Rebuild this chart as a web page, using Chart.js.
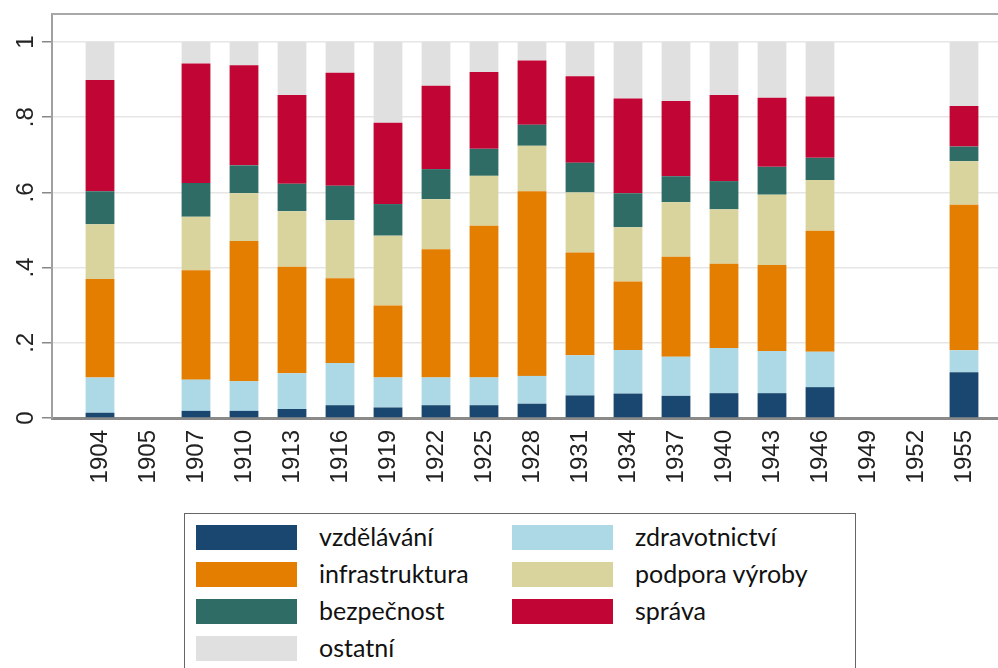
<!DOCTYPE html>
<html>
<head>
<meta charset="utf-8">
<script src="https://cdn.jsdelivr.net/npm/chart.js@4/dist/chart.umd.min.js"></script>
<style>
  html, body { margin: 0; padding: 0; background: #fff; width: 998px; height: 668px; overflow: hidden; }
  #wrap { position: absolute; left: 0; top: 0; width: 1012px; height: 668px; }
  #legend { position: absolute; left: 184px; top: 513px; width: 672px; height: 200px;
            border: 1.5px solid #666; box-sizing: border-box; background: #fff;
            font-family: Lato, "Open Sans", sans-serif; font-size: 25px; color: #111; }
  .item { position: absolute; height: 25px; }
  .sw { position: absolute; left: 0; top: 0; width: 101px; height: 25px; }
  .lab { position: absolute; left: 123px; top: -6px; white-space: nowrap; line-height: 34px; }
</style>
</head>
<body>
<div id="wrap"><canvas id="c"></canvas></div>
<div id="legend"></div>
<script>
// ---- data ----
const years = ['1904','1905','1907','1910','1913','1916','1919','1922','1925','1928','1931','1934','1937','1940','1943','1946','1949','1952','1955'];
const vzdelavani     = [0.014, null, 0.019, 0.019, 0.024, 0.034, 0.028, 0.034, 0.034, 0.038, 0.060, 0.065, 0.059, 0.066, 0.066, 0.082, null, null, 0.122];
const zdravotnictvi  = [0.094, null, 0.083, 0.079, 0.095, 0.112, 0.080, 0.074, 0.074, 0.074, 0.107, 0.116, 0.104, 0.120, 0.112, 0.094, null, null, 0.058];
const infrastruktura = [0.262, null, 0.291, 0.373, 0.283, 0.226, 0.191, 0.341, 0.403, 0.491, 0.273, 0.182, 0.266, 0.224, 0.229, 0.322, null, null, 0.387];
const podporaVyroby  = [0.145, null, 0.142, 0.127, 0.148, 0.154, 0.186, 0.133, 0.133, 0.121, 0.160, 0.144, 0.145, 0.145, 0.187, 0.135, null, null, 0.116];
const bezpecnost     = [0.088, null, 0.090, 0.074, 0.073, 0.092, 0.084, 0.080, 0.072, 0.056, 0.079, 0.091, 0.069, 0.075, 0.074, 0.059, null, null, 0.039];
const sprava         = [0.296, null, 0.318, 0.266, 0.236, 0.300, 0.216, 0.222, 0.204, 0.171, 0.230, 0.252, 0.200, 0.229, 0.184, 0.163, null, null, 0.108];
const ostatni        = [0.101, null, 0.057, 0.062, 0.141, 0.082, 0.215, 0.116, 0.080, 0.049, 0.091, 0.150, 0.157, 0.141, 0.148, 0.145, null, null, 0.170];
const yTickValues = [0, 0.2, 0.4, 0.6, 0.8, 1];
const yTickLabels = ['0', '.2', '.4', '.6', '.8', '1'];

const seriesNames  = ['vzdělávání', 'zdravotnictví', 'infrastruktura', 'podpora výroby', 'bezpečnost', 'správa', 'ostatní'];
const seriesValues = [vzdelavani, zdravotnictvi, infrastruktura, podporaVyroby, bezpecnost, sprava, ostatni];
const seriesColors = ['#1a476f', '#add8e6', '#e37e00', '#d9d49e', '#2e6c65', '#c10534', '#e0e0e0'];

Chart.defaults.font.family = '"Liberation Sans", Arial, sans-serif';
Chart.defaults.color = '#222';

const datasets = seriesNames.map((name, k) => ({
  label: name,
  data: seriesValues[k].map((v, i) => ({ x: i, y: v })),
  backgroundColor: seriesColors[k],
  borderWidth: 0,
  barPercentage: 0.6,
  categoryPercentage: 1.0
}));

// top frame line of the plot region
const topFrame = {
  id: 'topFrame',
  afterDraw(chart) {
    const { ctx, chartArea } = chart;
    ctx.save();
    ctx.strokeStyle = '#a8a8a8';
    ctx.lineWidth = 2;
    ctx.beginPath();
    ctx.moveTo(chartArea.left, chartArea.top);
    ctx.lineTo(chartArea.right, chartArea.top);
    ctx.stroke();
    ctx.restore();
  }
};

const chart = new Chart(document.getElementById('c'), {
  type: 'bar',
  data: { datasets },
  plugins: [topFrame],
  options: {
    responsive: true,
    maintainAspectRatio: false,
    animation: false,
    layout: { padding: { top: 14, left: 0, right: 0, bottom: 0 } },
    plugins: { legend: { display: false }, tooltip: { enabled: false } },
    scales: {
      x: {
        type: 'linear', position: 'bottom', stacked: true, offset: false,
        min: -1, max: 19,
        grid: { display: false, drawTicks: false },
        border: { display: true, color: '#8a8a8a', width: 3 },
        afterBuildTicks: s => { s.ticks = years.map((y, i) => ({ value: i })); },
        afterFit: s => { s.height = 250; s.paddingLeft = 0; s.paddingRight = 0; },
        ticks: {
          autoSkip: false, minRotation: 90, maxRotation: 90, padding: 12,
          font: { size: 24 }, color: '#222',
          callback: v => years[v]
        }
      },
      y: {
        type: 'linear', position: 'left', stacked: true,
        min: 0, max: 1.0745,
        grid: { color: '#e6e6e6', lineWidth: 1.5, tickLength: 10, tickColor: '#888', tickWidth: 1.5 },
        border: { display: true, color: '#a0a0a0', width: 2 },
        afterBuildTicks: s => { s.ticks = yTickValues.map(v => ({ value: v })); },
        afterFit: s => { s.width = 52; s.paddingTop = 0; s.paddingBottom = 0; },
        ticks: {
          minRotation: 90, maxRotation: 90, crossAlign: 'center', padding: 6,
          font: { size: 24 }, color: '#222',
          callback: (v, i) => yTickLabels[i]
        }
      }
    }
  }
});

// HTML legend built from the datasets (2 columns, row-major)
const leg = document.getElementById('legend');
chart.data.datasets.forEach((ds, k) => {
  const col = k % 2, row = Math.floor(k / 2);
  const it = document.createElement('div');
  it.className = 'item';
  it.style.left = (11 + col * 316) + 'px';
  it.style.top = (11 + row * 37) + 'px';
  const sw = document.createElement('div');
  sw.className = 'sw';
  sw.style.background = ds.backgroundColor;
  const lab = document.createElement('div');
  lab.className = 'lab';
  lab.textContent = ds.label;
  it.appendChild(sw); it.appendChild(lab);
  leg.appendChild(it);
});
</script>
</body>
</html>
